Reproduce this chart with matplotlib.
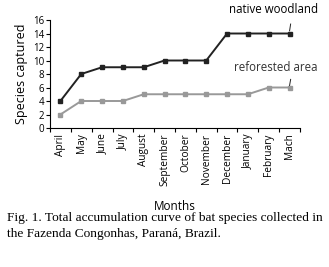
import matplotlib.pyplot as plt
import numpy as np

months = ['April', 'May', 'June', 'July', 'August', 'September', 'October',
          'November', 'December', 'January', 'February', 'Mach']
native = [4, 8, 9, 9, 9, 10, 10, 10, 14, 14, 14, 14]
reforested = [2, 4, 4, 4, 5, 5, 5, 5, 5, 5, 6, 6]

plt.rcParams['font.family'] = ['Open Sans', 'DejaVu Sans']

fig = plt.figure(figsize=(3.29, 2.67), dpi=100)
ax = fig.add_axes([50/329, 1 - 128/267, 250/329, 108/267])

x = np.arange(len(months))
ax.plot(x, native, color='#222222', lw=1.4, marker='s', ms=2.5)
ax.plot(x, reforested, color='#999999', lw=1.4, marker='s', ms=2.5)

ax.set_xlim(-0.5, len(months) - 0.5)
ax.set_ylim(0, 16)
ax.set_yticks(range(0, 17, 2))
ax.set_xticks(np.arange(-0.5, len(months), 1))
ax.set_xticklabels([])
ax.set_xticks(x, minor=True)
ax.set_xticklabels(months, minor=True, rotation=90, fontsize=7.3)
ax.tick_params(axis='x', which='minor', length=0, pad=4)
ax.tick_params(axis='x', which='major', length=3, width=0.8, direction='out')
ax.tick_params(axis='y', labelsize=7, length=3, width=0.8, pad=1)
for s in ['top', 'right']:
    ax.spines[s].set_visible(False)
for s in ['left', 'bottom']:
    ax.spines[s].set_linewidth(0.8)

ax.set_ylabel('Species captured', fontsize=9, labelpad=4)
fig.text(175/329, 1 - 207/267, 'Months', fontsize=8.5, ha='center', va='center')

ax.text(12.35, 16.6, 'native woodland', fontsize=8.3, ha='right', va='bottom')
ax.plot([11.05, 11.0], [15.4, 14.4], color='#222222', lw=0.7)
ax.text(12.35, 8.0, 'reforested area', fontsize=8.3, ha='right', va='bottom', color='#333333')
ax.plot([11.05, 11.0], [7.2, 6.3], color='#222222', lw=0.7)

fig.text(7/329, 1 - 226/267, 'Fig. 1. Total accumulation curve of bat species collected in\nthe Fazenda Congonhas, Paraná, Brazil.',
         family='Liberation Serif', fontsize=9.6, va='center', ha='left', linespacing=1.45)

fig.savefig('out.png', dpi=100)
